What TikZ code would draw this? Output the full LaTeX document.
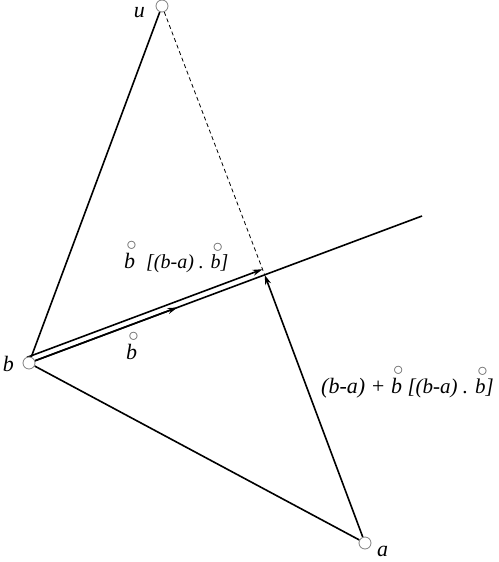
\documentclass[tikz,border=0pt]{standalone}
\usepackage{amsmath}
\usepackage{fontspec}
\setmainfont{Liberation Serif}
\usetikzlibrary{calc,arrows.meta,positioning,backgrounds}

% b with a small ring above it
\newcommand{\rb}{\leavevmode\rlap{\hspace{0.1em}\raisebox{0.8em}{\color{gray!80!black}$\circ$}}b}

\begin{document}
\begin{tikzpicture}[x=1pt,y=-1pt,
    dot/.style={circle,draw=gray,fill=white,inner sep=0pt,minimum size=12pt,line width=0.8pt},
    txt/.style={font=\fontsize{22}{24}\selectfont\itshape,inner sep=1pt},
    seg/.style={line width=1.6pt},
    >={Stealth[length=10pt,width=6pt]}]
    \useasboundingbox (0,0) rectangle (498,562);

    % points
    \node[dot] (u) at (162,6) {};
    \node[dot] (b) at (29,363) {};
    \node[dot] (a) at (365,543) {};
    \coordinate (e) at (422,216);
    \coordinate (p) at ($(b)!(a)!(e)$);
    \coordinate (m) at ($(b)!0.63!(p)$);
    \coordinate (b2) at ($(b)!6pt!90:(e)$);
    \coordinate (p2) at ($(p)!6pt!-90:(b)$);

    \node[txt,anchor=base east] (ul) at (146,17) {u};
    \node[txt,anchor=base east] (bl) at (15,371) {b};
    \node[txt,anchor=base west] (al) at (376,556) {a};

    % labels
    \node[txt,anchor=base west] (l1) at (123,268) {\rb\hspace{0.5em}\fontsize{20}{22}\selectfont[(b-a) . \rb]};
    \node[txt,anchor=base west] (l2) at (125,359) {\rb};
    \node[txt,anchor=base west] (l3) at (320,393) {(b-a) + \rb\ \fontsize{21}{23}\selectfont[(b-a) . \rb]};

    \begin{pgfonlayer}{background}
        \draw[seg] (u) -- (b) -- (a);
        \draw[seg] (b) -- (e);
        \draw[seg,->] (b) -- (m);
        \draw[seg,->] (b2) -- (p2);
        \draw[seg,->] (a) -- (p);
        \draw[line width=0.8pt,dash pattern=on 4pt off 3pt] (u) -- (p);
    \end{pgfonlayer}
\end{tikzpicture}
\end{document}
